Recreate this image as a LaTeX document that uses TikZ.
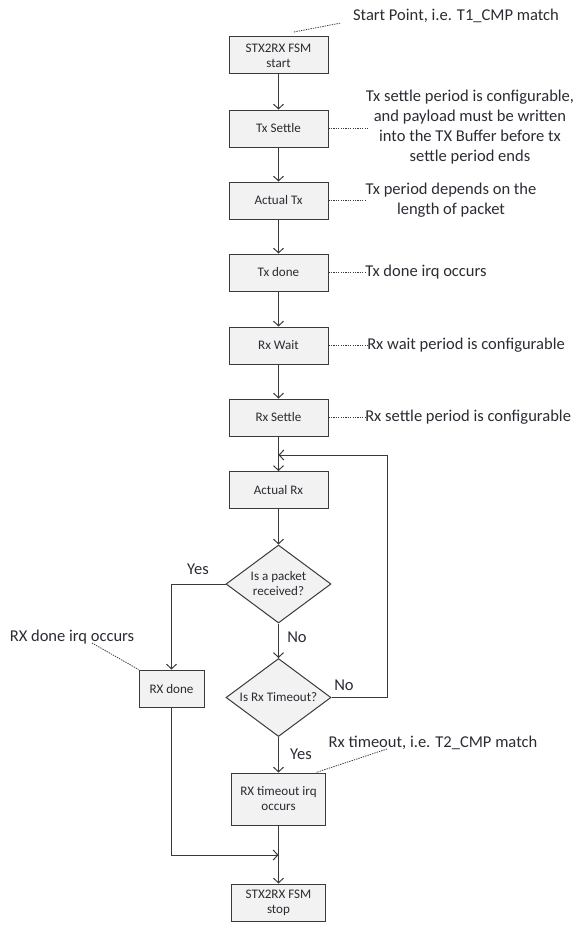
\documentclass[tikz,border=0pt]{standalone}
\usepackage{fontspec}
\setmainfont{Carlito}
\usetikzlibrary{arrows.meta,shapes.geometric}
\definecolor{ln}{HTML}{3A3A3A}
\definecolor{fillg}{HTML}{F2F2F2}
\definecolor{txt}{HTML}{2B2B33}
\begin{document}
\begin{tikzpicture}[x=0.75pt,y=-0.75pt,
  box/.style={draw=ln, fill=fillg, line width=0.75pt, minimum width=74.25pt, minimum height=27.75pt, inner sep=1pt, align=center, font=\fontsize{9.8}{11.25}\selectfont, text=txt},
  dec/.style={diamond, draw=ln, fill=fillg, line width=0.75pt, minimum width=78.75pt, minimum height=58.5pt, inner sep=0pt, aspect=1.35, align=center, font=\fontsize{9.8}{11.25}\selectfont, text=txt},
  flow/.style={draw=ln, line width=0.75pt, -{Straight Barb[length=3.5pt,width=7.5pt]}},
  note/.style={font=\fontsize{12.4}{15}\selectfont, text=txt, align=center, inner sep=0pt},
  lead/.style={draw=ln, line width=0.6pt, dash pattern=on 1pt off 0.8pt}]
\useasboundingbox (0,0) rectangle (588,931);

% boxes
\node[box] (start) at (278.5,55.5) {STX2RX FSM\\start};
\node[box] (txs) at (278.5,128.5) {Tx Settle};
\node[box] (atx) at (278.5,200.5) {Actual Tx};
\node[box] (txd) at (278.5,272.5) {Tx done};
\node[box] (rxw) at (278.5,345.5) {Rx Wait};
\node[box] (rxs) at (278.5,417.5) {Rx Settle};
\node[box] (arx) at (278.5,490) {Actual Rx};
\node[dec] (d1) at (278.5,584) {Is a packet\\received?};
\node[dec] (d2) at (278.5,697.5) {Is Rx Timeout?};
\node[box, minimum width=48.75pt] (rxd) at (171.5,688.5) {RX done};
\node[box, minimum width=70.5pt, minimum height=39pt] (rto) at (278.5,799) {RX timeout irq\\occurs};
\node[box, minimum width=70.5pt] (stop) at (278.5,902.5) {STX2RX FSM\\stop};

% notes
\node[note] (n0) at (456,16) {Start Point, i.e. T1\_CMP match};
\node[note] (n1) at (470,127) {Tx settle period is configurable,\\and payload must be written\\into the TX Buffer before tx\\settle period ends};
\node[note] (n2) at (451,200) {Tx period depends on the\\length of packet};
\node[note, anchor=west] (n3) at (365,272.5) {Tx done irq occurs};
\node[note, anchor=west] (n4) at (367,345.5) {Rx wait period is configurable};
\node[note, anchor=west] (n5) at (365,417.5) {Rx settle period is configurable};
\node[note] (n6) at (72,637) {RX done irq occurs};
\node[note] (n7) at (433,743) {Rx timeout, i.e. T2\_CMP match};

% labels
\node[note] (yes1) at (198,569) {Yes};
\node[note] (no1) at (297,637) {No};
\node[note] (no2) at (344,685) {No};
\node[note] (yes2) at (301,754) {Yes};

% leader lines
\coordinate (l0a) at (294,32);
\coordinate (l0b) at (341,23);
\draw[lead] (l0a) -- (l0b);
\coordinate (l1b) at (367,128.5);
\draw[lead] (txs.east) -- (l1b);
\draw[lead] (atx.east) -- (atx.east -| n2.west);
\draw[lead] (txd.east) -- (n3.west);
\draw[lead] (rxw.east) -- (n4.west);
\draw[lead] (rxs.east) -- (n5.west);
\coordinate (l6a) at (92,643);
\draw[lead] (l6a) -- (rxd.north west);
\coordinate (l7a) at (387,749);
\draw[lead] (l7a) -- ([xshift=-7.5pt]rto.north east);

% flow
\draw[flow] (start.south) -- (txs.north);
\draw[flow] (txs.south) -- (atx.north);
\draw[flow] (atx.south) -- (txd.north);
\draw[flow] (txd.south) -- (rxw.north);
\draw[flow] (rxw.south) -- (rxs.north);
\draw[flow] (rxs.south) -- (arx.north);
\draw[flow] (arx.south) -- (d1.north);
\draw[flow] (d1.south) -- (d2.north);
\draw[flow] (d1.west) -| (rxd.north);
\draw[flow] (d2.south) -- (rto.north);
\draw[flow] (rto.south) -- (stop.north);
\coordinate (loopT) at (387,455);
\coordinate (loopIn) at (278.5,455);
\draw[flow] (d2.east) -- (d2.east -| loopT) -- (loopT) -- (loopIn);
\coordinate (merge) at (278.5,855);
\draw[flow] (rxd.south) |- (merge);
\end{tikzpicture}
\end{document}
